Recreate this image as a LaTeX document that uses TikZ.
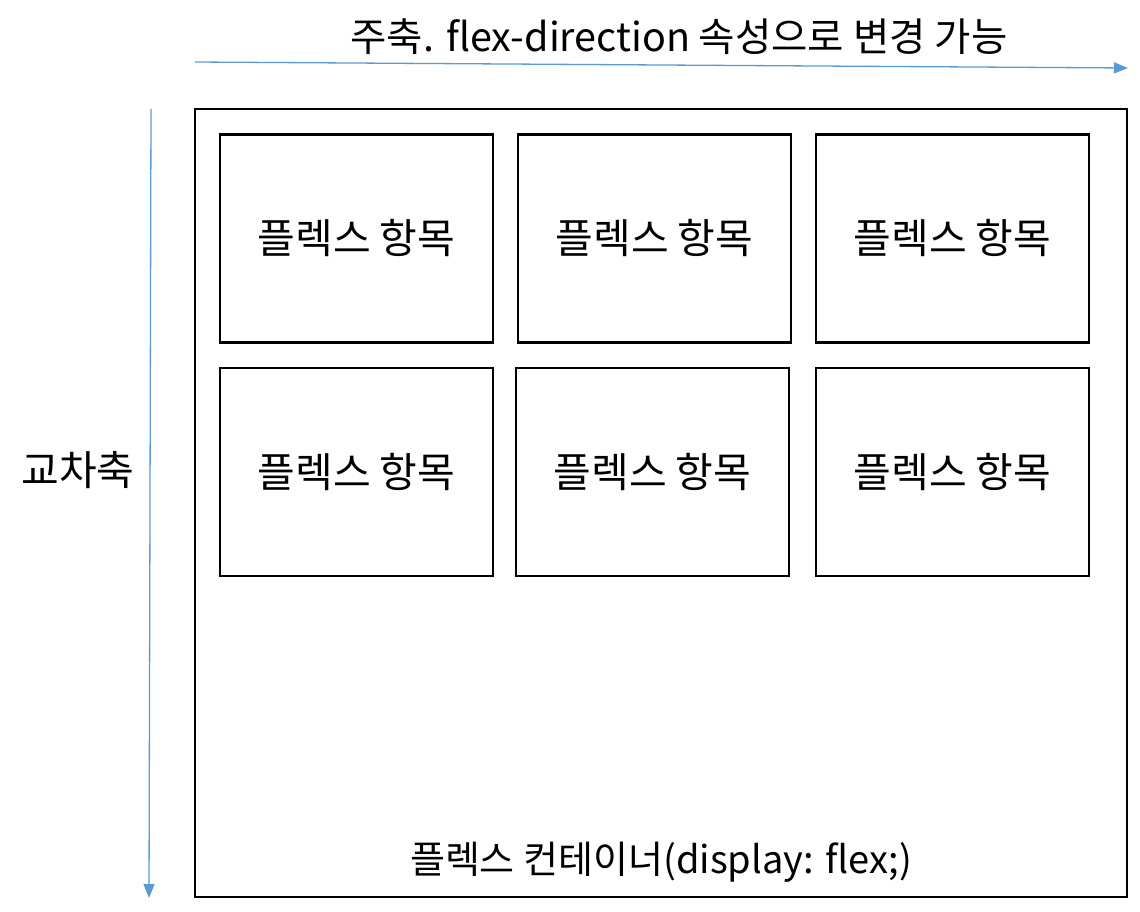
\documentclass[tikz,border=0pt]{standalone}
\usepackage{fontspec}
\setmainfont{Noto Sans CJK KR}
\usetikzlibrary{arrows.meta}
\definecolor{axisblue}{HTML}{5B9BD5}
\begin{document}
\begin{tikzpicture}[x=1pt,y=-1pt,
  itembox/.style={draw=black,line width=2.2pt,minimum width=273pt,minimum height=208pt,inner sep=0pt,font=\fontsize{41}{48}\selectfont},
  axisarrow/.style={draw=axisblue,line width=1.3pt,-{Triangle[length=14pt,width=11pt]}},
  lbl/.style={inner sep=0pt}]
\useasboundingbox[fill=white] (0,0) rectangle (1140,912);
\coordinate (hs) at (195,62);
\coordinate (he) at (1128,68);
\coordinate (vs) at (151,109);
\coordinate (ve) at (149,898);
\draw[axisarrow] (hs) -- (he);
\draw[axisarrow] (vs) -- (ve);
\node[lbl,font=\fontsize{39.5}{46}\selectfont] (main) at (679,37) {주축. flex-direction 속성으로 변경 가능};
\node[lbl,font=\fontsize{41}{48}\selectfont] (cross) at (78,470) {교차축};
\node[draw=black,line width=2.2pt,minimum width=932pt,minimum height=788pt,inner sep=0pt] (cont) at (661,503) {};
\node[lbl,font=\fontsize{38}{44}\selectfont] (contlbl) at (661,862) {플렉스 컨테이너(display: flex;)};
\node[itembox] (a1) at (356.5,238.5) {플렉스 항목};
\node[itembox] (a2) at (654.5,238.5) {플렉스 항목};
\node[itembox] (a3) at (952.5,238.5) {플렉스 항목};
\node[itembox] (b1) at (356.5,472) {플렉스 항목};
\node[itembox] (b2) at (652.5,472) {플렉스 항목};
\node[itembox] (b3) at (952.5,472) {플렉스 항목};
\end{tikzpicture}
\end{document}
